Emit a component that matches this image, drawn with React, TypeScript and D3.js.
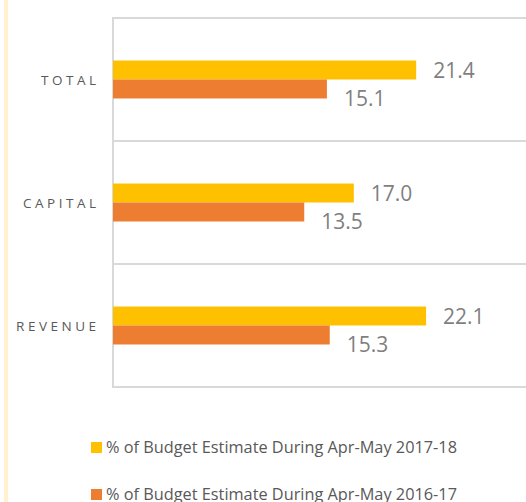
import React, { useEffect, useRef } from 'react';
import * as d3 from 'd3';

const categories = ['TOTAL', 'CAPITAL', 'REVENUE'];
const seriesNames = [
  '% of Budget Estimate During Apr-May 2017-18',
  '% of Budget Estimate During Apr-May 2016-17',
];
const values2017 = [21.4, 17.0, 22.1];
const values2016 = [15.1, 13.5, 15.3];
const colors = ['#FFC000', '#ED7D31'];

const W = 526;
const H = 502;

const App = () => {
  const ref = useRef<SVGSVGElement>(null);

  useEffect(() => {
    const svg = d3.select(ref.current);
    svg.selectAll('*').remove();

    const left = 113;
    const top = 18;
    const bottom = 387;

    const x = d3.scaleLinear().domain([0, 30]).range([left, left + 425]);
    const y = d3.scaleBand().domain(categories).range([top, bottom]).padding(0);
    const sub = d3.scaleBand<number>()
      .domain([0, 1])
      .range([0, y.bandwidth()])
      .paddingInner(0)
      .paddingOuter(2.24);

    // cream strip on the left edge
    svg.append('rect')
      .attr('x', 4).attr('y', 0).attr('width', 4).attr('height', H)
      .attr('fill', '#FFF2CC');

    // horizontal separators
    const lines = [...categories.map(c => y(c)!), bottom];
    svg.selectAll('.grid')
      .data(lines)
      .enter().append('line')
      .attr('x1', left).attr('x2', W)
      .attr('y1', d => d).attr('y2', d => d)
      .attr('stroke', '#D9D9D9')
      .attr('stroke-width', 2);

    svg.append('line')
      .attr('x1', left).attr('x2', left)
      .attr('y1', top - 1).attr('y2', bottom + 1)
      .attr('stroke', '#D9D9D9')
      .attr('stroke-width', 2);

    const series = [values2017, values2016];
    const labelDy = [8, 17];

    series.forEach((vals, si) => {
      const g = svg.append('g');
      g.selectAll('rect')
        .data(vals)
        .enter().append('rect')
        .attr('x', left)
        .attr('y', (d, i) => y(categories[i])! + sub(si)!)
        .attr('width', d => x(d) - left)
        .attr('height', sub.bandwidth())
        .attr('fill', colors[si]);

      g.selectAll('text')
        .data(vals)
        .enter().append('text')
        .attr('x', d => x(d) + 17)
        .attr('y', (d, i) => y(categories[i])! + sub(si)! + sub.bandwidth() / 2 + labelDy[si])
        .attr('font-family', '"Open Sans", sans-serif')
        .attr('font-size', 21)
        .attr('fill', '#7F7F7F')
        .text(d => d3.format('.1f')(d));
    });

    // category labels
    svg.selectAll('.cat')
      .data(categories)
      .enter().append('text')
      .attr('x', 96 + 3.5)
      .attr('y', d => y(d)! + y.bandwidth() / 2 + 5.5)
      .attr('text-anchor', 'end')
      .attr('font-family', '"Open Sans", sans-serif')
      .attr('font-size', 13.5)
      .attr('letter-spacing', 3.5)
      .attr('fill', '#595959')
      .text(d => d);

    // legend
    const legend = svg.append('g');
    seriesNames.forEach((name, i) => {
      const ly = 442 + i * 47;
      legend.append('rect')
        .attr('x', 91).attr('y', ly).attr('width', 11).attr('height', 11)
        .attr('fill', colors[i]);
      legend.append('text')
        .attr('x', 106)
        .attr('y', ly + 11)
        .attr('font-family', '"Open Sans", sans-serif')
        .attr('font-size', 17)
        .attr('fill', '#595959')
        .attr('textLength', 351)
        .attr('lengthAdjust', 'spacingAndGlyphs')
        .text(name);
    });
  }, []);

  return (
    <svg
      ref={ref}
      width={W}
      height={H}
      style={{ position: 'absolute', left: 0, top: 0, background: '#fff' }}
    />
  );
};

export default App;
